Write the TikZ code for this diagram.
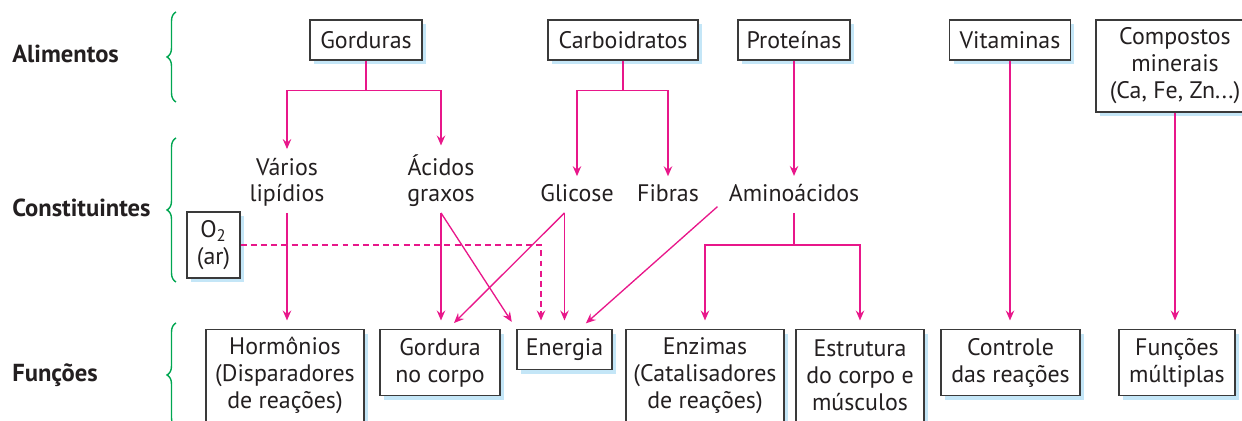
\documentclass[tikz,border=0pt]{standalone}
\usepackage{fontspec}
\setmainfont{PT Sans}
\usetikzlibrary{arrows.meta,positioning,calc,shadows,decorations.pathreplacing}
\definecolor{mag}{HTML}{E8178A}
\definecolor{grn}{HTML}{00A651}
\definecolor{shd}{HTML}{C4E6F7}
\definecolor{ink}{HTML}{231F20}
\definecolor{edge}{HTML}{3A3A3A}
\tikzset{
  every node/.style={font=\fontsize{13.6}{15.3}\selectfont, text=ink},
  bx/.style ={draw=edge, line width=0.7pt, fill=white, align=center, inner sep=2pt,
              drop shadow={shadow xshift=0.08cm, shadow yshift=-0.08cm, fill=shd, opacity=1}},
  b1/.style ={bx, minimum height=0.8cm},
  b2/.style ={bx, minimum height=1.32cm},
  b3/.style ={bx, minimum height=1.84cm},
  cst/.style={align=center, inner sep=0pt, text depth=6pt, anchor=base},
  hd/.style ={font=\bfseries\fontsize{14}{16}\selectfont, anchor=base west, inner sep=0pt},
  ln/.style ={draw=mag, line width=0.75pt},
  ar/.style ={ln, -{Stealth[length=2mm, width=1.7mm, inset=0.7mm]}, shorten >=0.17cm},
  dar/.style={ar, dash pattern=on 3.4pt off 2.4pt},
  brc/.style={draw=grn, line width=0.8pt, decorate, decoration={brace, amplitude=0.18cm}},
}
\begin{document}
\begin{tikzpicture}[x=0.02cm, y=-0.02cm]
\useasboundingbox (0,0) rectangle (1242,421);

% ============ row heads =====================================================
\node[hd] (hA) at (12,63)  {Alimentos};
\node[hd] (hC) at (12,217) {Constituintes};
\node[hd] (hF) at (12,382) {Funções};
\draw[brc] (176,102) -- (176,12);
\draw[brc] (176,282) -- (176,138);
\draw[brc] (176,427) -- (176,323);

% ============ alimentos =====================================================
\node[b1, minimum width=2.24cm] (gor)  at (366,40)  {Gorduras};
\node[b1, minimum width=3cm]    (carb) at (623,40)  {Carboidratos};
\node[b1, minimum width=2.24cm] (prot) at (794,40)  {Proteínas};
\node[b1, minimum width=2.42cm] (vit)  at (1010,40) {Vitaminas};
\node[b3, minimum width=3.16cm] (mine) at (1175,66) {Compostos\\minerais\\(Ca, Fe, Zn...)};

% ============ constituintes =================================================
\node[cst] (vl)  at (287,202) {Vários\\lipídios};
\node[cst] (ag)  at (441,202) {Ácidos\\graxos};
\node[cst] (gli) at (577,202) {Glicose};
\node[cst] (fib) at (668,202) {Fibras};
\node[cst] (am)  at (794,202) {Aminoácidos};
\node[b2, minimum width=1.06cm] (o2) at (213.5,245) {O\textsubscript{2}\\(ar)};

% ============ funcoes =======================================================
\node[b3, minimum width=3.16cm, anchor=north] (hor) at (285,329)    {Hormônios\\(Disparadores\\de reações)};
\node[b2, minimum width=2.4cm,  anchor=north] (gc)  at (440,329)    {Gordura\\no corpo};
\node[b1, minimum width=1.9cm,  anchor=north] (en)  at (564.5,329)  {Energia};
\node[b3, minimum width=3.16cm, anchor=north] (enz) at (705,329)    {Enzimas\\(Catalisadores\\de reações)};
\node[b3, minimum width=2.56cm, anchor=north] (est) at (860,329)    {Estrutura\\do corpo e\\músculos};
\node[b2, minimum width=2.78cm, anchor=north] (ctl) at (1010.5,329) {Controle\\das reações};
\node[b2, minimum width=2.32cm, anchor=north] (fm)  at (1177,329)   {Funções\\múltiplas};

% ============ connectors ====================================================
\draw[ln] (gor.south) -- ++(0,30) coordinate (jg);
\draw[ar] (jg) -| (vl.north);
\draw[ar] (jg) -| (ag.north);
\draw[ln] (carb.south) -- ++(0,30) coordinate (jc);
\draw[ar] (jc) -| (gli.north);
\draw[ar] (jc) -| (fib.north);
\draw[ar] (prot.south) -- (am.north);

\draw[dar] (o2.east) -| ($(en.north)+(-23.5,0)$);
\draw[ar] (vl.south) -- (vl.south |- hor.north);
\draw[ar] (ag.south) -- (ag.south |- gc.north);
\draw[ar] (ag.south) -- (en.north west);
\draw[ar] (en.north |- gli.south) -- (en.north);
\draw[ar] (en.north |- gli.south) -- ($(gc.north)+(8,0)$);
\draw[ar] ($(am.west)+(-11,8)$) -- ($(en.north)+(15,0)$);
\draw[ln] (am.south) -- ++(0,32) coordinate (ja);
\draw[ar] (ja) -| (enz.north);
\draw[ar] (ja) -| (est.north);
\draw[ar] (vit.south) -- (vit.south |- ctl.north);
\draw[ar] (mine.south) -- (mine.south |- fm.north);

\end{tikzpicture}
\end{document}
